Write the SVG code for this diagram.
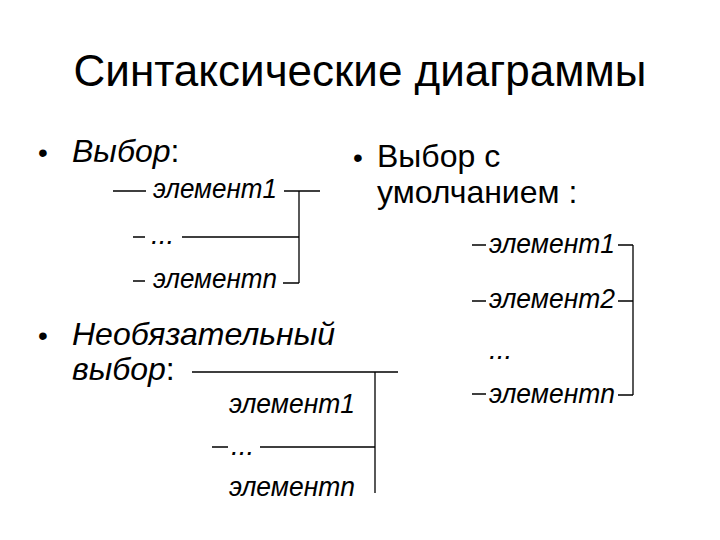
<svg xmlns="http://www.w3.org/2000/svg" width="720" height="540" viewBox="0 0 720 540">
<style>
text{font-family:"Liberation Sans",Arial,sans-serif;fill:#000}
.title{font-size:44px}
.bul{font-size:32px}
.dot{font-size:28px}
.it{font-style:italic}
.el{font-size:28px;font-style:italic}
.ln{stroke:#000;stroke-width:1.3;fill:none}
</style>
<rect width="720" height="540" fill="#fff"/>
<text class="title" x="360" y="86" text-anchor="middle">Синтаксические диаграммы</text>

<g id="choice">
<text class="dot" x="38" y="162">•</text>
<text class="bul" x="72" y="162"><tspan class="it">Выбор</tspan>:</text>
<text class="el" x="153" y="198" textLength="124" lengthAdjust="spacingAndGlyphs">элемент1</text>
<text class="el" x="151" y="244">...</text>
<text class="el" x="153" y="288" textLength="124" lengthAdjust="spacingAndGlyphs">элементn</text>
</g>

<g id="default-choice">
<text class="dot" x="353" y="167">•</text>
<text class="bul" x="377" y="167">Выбор с</text>
<text class="bul" x="377" y="203">умолчанием :</text>
<text class="el" x="489" y="253" textLength="126" lengthAdjust="spacingAndGlyphs">элемент1</text>
<text class="el" x="489" y="308" textLength="126" lengthAdjust="spacingAndGlyphs">элемент2</text>
<text class="el" x="489" y="359">...</text>
<text class="el" x="489" y="403" textLength="126" lengthAdjust="spacingAndGlyphs">элементn</text>
</g>

<g id="optional-choice">
<text class="dot" x="38" y="345">•</text>
<text class="bul it" x="72" y="345">Необязательный</text>
<text class="bul" x="72" y="380"><tspan class="it">выбор</tspan>:</text>
<text class="el" x="229" y="413" textLength="126" lengthAdjust="spacingAndGlyphs">элемент1</text>
<text class="el" x="231" y="455">...</text>
<text class="el" x="229" y="496" textLength="126" lengthAdjust="spacingAndGlyphs">элементn</text>
</g>

<g id="connectors">
<path class="ln" d="M113 191H146M284 191H320M299 191V283M133 237H145M182 237H299M133 281H145M283 283H299"/>
<path class="ln" d="M472 245H486M618 245H633M633 245V395M472 301H486M618 301H633M472 394H486M618 395H633"/>
<path class="ln" d="M192 372H398M375 372V493M212 447H228M260 447H375"/>
</g>
</svg>
